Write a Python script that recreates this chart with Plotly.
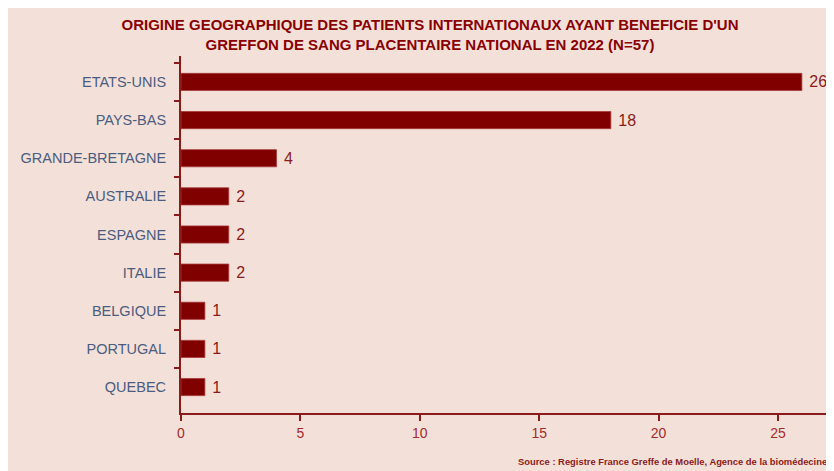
import plotly.graph_objects as go

countries = ["ETATS-UNIS", "PAYS-BAS", "GRANDE-BRETAGNE", "AUSTRALIE", "ESPAGNE",
             "ITALIE", "BELGIQUE", "PORTUGAL", "QUEBEC"]
patients = [26, 18, 4, 2, 2, 2, 1, 1, 1]
x_ticks = [0, 5, 10, 15, 20, 25]

title_text = ("ORIGINE GEOGRAPHIQUE DES PATIENTS INTERNATIONAUX AYANT BENEFICIE D'UN<br>"
              "GREFFON DE SANG PLACENTAIRE NATIONAL EN 2022 (N=57)")
source_text = "Source : Registre France Greffe de Moelle, Agence de la biomédecine"

BG = "#F3E1D9"
DARK = "#800000"
AXIS = "#8B1A1A"

W, H = 842, 463
ML, MR, MT, MB = 173, 0, 48, 58
pw = W - ML - MR
ph = H - MT - MB


def px_x(px):
    return (px - ML) / pw


def px_y(py):
    return (MT + ph - py) / ph


fig = go.Figure()
fig.add_trace(go.Bar(
    x=patients, y=countries, orientation="h",
    marker=dict(color=DARK, line=dict(color="#A83A3A", width=0.8)),
    width=0.45,
    text=[f" {v}" for v in patients], textposition="outside",
    textfont=dict(size=16, color="#8B1A1A", family="Liberation Sans, Arial"),
    constraintext="none",
    cliponaxis=False,
    hoverinfo="skip",
))

fig.update_layout(
    width=W, height=H,
    margin=dict(l=ML, r=MR, t=MT, b=MB),
    paper_bgcolor=BG, plot_bgcolor=BG,
    showlegend=False,
    font=dict(family="Liberation Sans, Arial"),
    title=dict(text=title_text, xref="container", x=422 / W, xanchor="center",
               yref="container", y=1 - 22 / H, yanchor="top",
               font=dict(size=15, color="#8B0000", family="Liberation Sans, Arial",
                         weight="bold")),
    xaxis=dict(range=[0, (W - ML) / (770 - ML) * 25], tickvals=x_ticks,
               showgrid=False, zeroline=False, showline=True, linecolor=AXIS,
               linewidth=2, ticks="outside", ticklen=6, tickwidth=2, tickcolor=AXIS,
               tickfont=dict(size=14, color="#A52A2A")),
    yaxis=dict(categoryorder="array", categoryarray=countries,
               range=[len(countries) - 1 + 0.68, -0.68],
               showgrid=False, zeroline=False, showline=True, linecolor=AXIS,
               linewidth=2, ticks="outside", ticklen=5, tickwidth=2, tickcolor=AXIS,
               tickson="boundaries", ticklabelstandoff=10,
               tickfont=dict(size=14.5, color="#4B5C80")),
    annotations=[dict(text=source_text, xref="paper", yref="paper",
                      x=px_x(821), y=px_y(453), xanchor="right", yanchor="middle",
                      showarrow=False,
                      font=dict(size=9.4, color="#8B1A1A", family="Liberation Sans, Arial",
                                weight="bold"))],
)

fig.write_html("out.html")
